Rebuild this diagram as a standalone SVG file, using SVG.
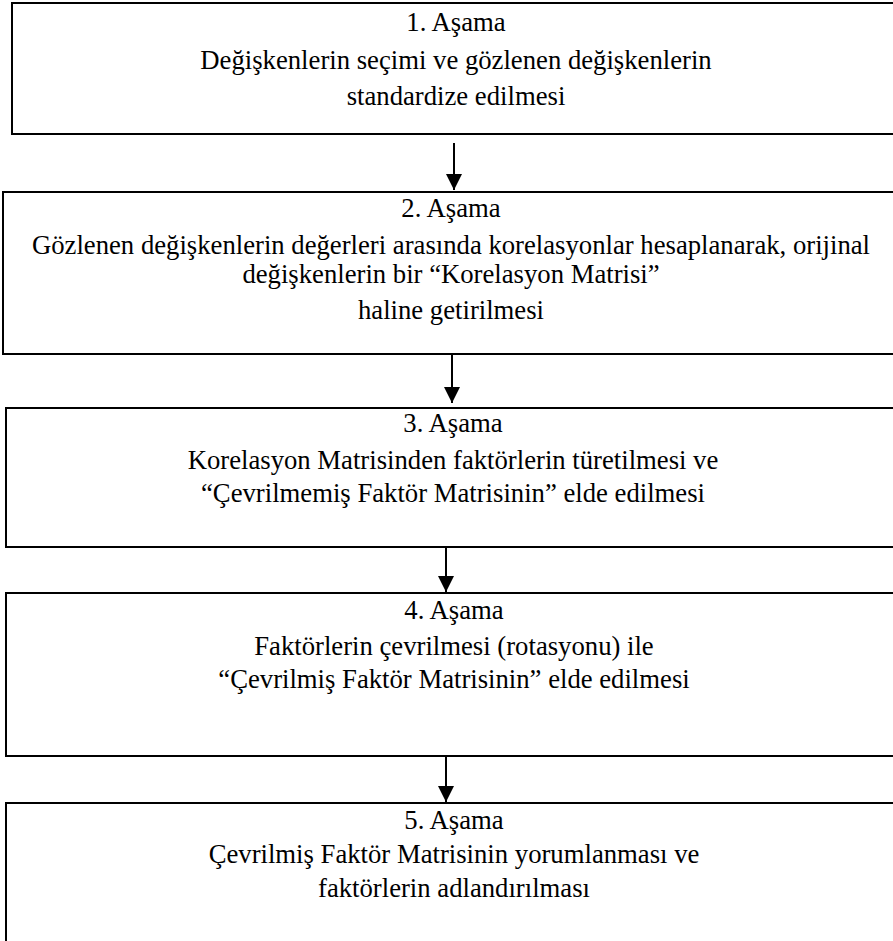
<svg xmlns="http://www.w3.org/2000/svg" width="893" height="941" viewBox="0 0 893 941">
<style>
  .box { fill: #ffffff; stroke: #000000; stroke-width: 2; }
  text { font-family: 'Liberation Serif', 'Times New Roman', Times, serif; font-size: 26.7px; fill: #000000; text-anchor: middle; }
  .conn { stroke: #000000; stroke-width: 2; fill: none; }
</style>
<defs>
  <marker id="ah" markerUnits="userSpaceOnUse" markerWidth="16" markerHeight="16" refX="16" refY="8" orient="auto" viewBox="0 0 16 16">
    <path d="M0,0 L16,8 L0,16 z" fill="#000000"/>
  </marker>
</defs>
<rect width="893" height="941" fill="#ffffff"/>
<g id="step1">
  <rect class="box" x="12" y="3" width="900" height="131"/>
  <text x="456" y="31">1. Aşama</text>
  <text x="456" y="69">Değişkenlerin seçimi ve gözlenen değişkenlerin</text>
  <text x="456" y="105">standardize edilmesi</text>
</g>
<g id="step2">
  <rect class="box" x="3" y="192" width="910" height="162"/>
  <text x="451" y="217">2. Aşama</text>
  <text x="451" y="254">Gözlenen değişkenlerin değerleri arasında korelasyonlar hesaplanarak, orijinal</text>
  <text x="451" y="283">değişkenlerin bir “Korelasyon Matrisi”</text>
  <text x="451" y="319">haline getirilmesi</text>
</g>
<g id="step3">
  <rect class="box" x="6" y="408" width="910" height="139"/>
  <text x="453" y="432">3. Aşama</text>
  <text x="453" y="469">Korelasyon Matrisinden faktörlerin türetilmesi ve</text>
  <text x="453" y="502">“Çevrilmemiş Faktör Matrisinin” elde edilmesi</text>
</g>
<g id="step4">
  <rect class="box" x="6" y="593" width="910" height="163"/>
  <text x="454" y="619">4. Aşama</text>
  <text x="454" y="655">Faktörlerin çevrilmesi (rotasyonu) ile</text>
  <text x="454" y="688">“Çevrilmiş Faktör Matrisinin” elde edilmesi</text>
</g>
<g id="step5">
  <rect class="box" x="6" y="803" width="910" height="200"/>
  <text x="454" y="829">5. Aşama</text>
  <text x="454" y="863">Çevrilmiş Faktör Matrisinin yorumlanması ve</text>
  <text x="454" y="897">faktörlerin adlandırılması</text>
</g>
<g id="connectors">
  <line class="conn" x1="454" y1="143" x2="454" y2="190" marker-end="url(#ah)"/>
  <line class="conn" x1="452" y1="354" x2="452" y2="403" marker-end="url(#ah)"/>
  <line class="conn" x1="446" y1="547" x2="446" y2="592" marker-end="url(#ah)"/>
  <line class="conn" x1="446" y1="756" x2="446" y2="802" marker-end="url(#ah)"/>
</g>
</svg>
